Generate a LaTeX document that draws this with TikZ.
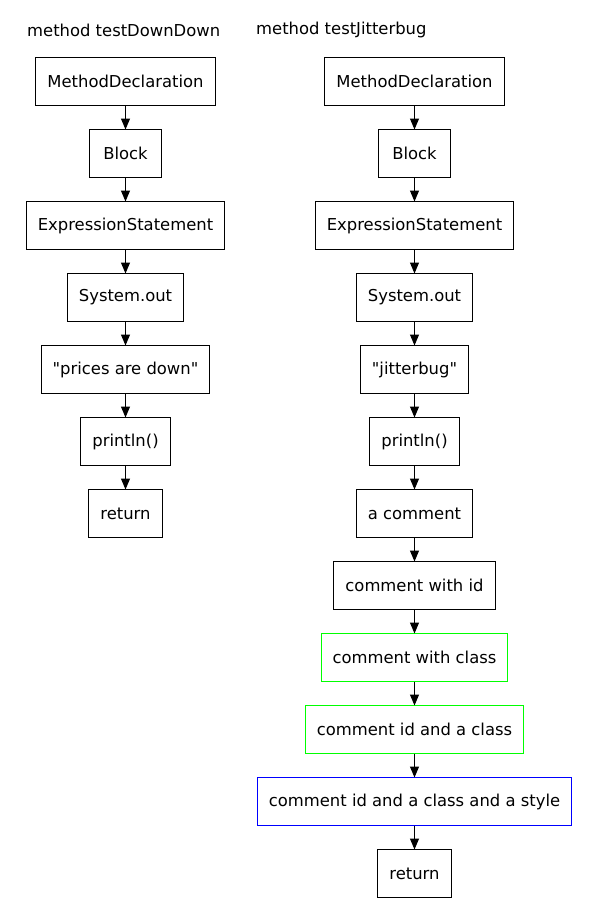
\documentclass[tikz,border=0pt]{standalone}
\usepackage{fontspec}
\setmainfont{DejaVu Sans}
\usetikzlibrary{positioning,arrows.meta}
\tikzset{box/.style={draw,rectangle,line width=1pt,outer sep=0pt,minimum width=72pt,minimum
height=48pt,inner xsep=11.5pt,text=black},title/.style={inner sep=0pt,anchor=west}}
\tikzstyle{greenbox} = [box, draw=green]
\tikzstyle{bluebox}  = [box, draw=blue]
\tikzstyle{arrow}    = [line width=1pt,-{Triangle[length=11pt,width=9pt]}]

\begin{document}
\begin{tikzpicture}[
			x=1pt,y=1pt,
			node distance=24pt,
			font=\fontsize{16.4pt}{19pt}\selectfont
		]
		\useasboundingbox (0,0) rectangle (600,-924);
		% left method
		\node[title] (titleA) at (27,-30) {method testDownDown};
		\node[box] (declA) at (125.5,-81.5) {MethodDeclaration};
		\node[box, below=of declA] (blockA) {Block};
		\node[box, below=of blockA] (exprA) {ExpressionStatement};
		\node[box, below=of exprA] (outA) {System.out};
		\node[box, below=of outA] (strA) {\textquotedbl prices are down\textquotedbl};
		\node[box, below=of strA] (printA) {println()};
		\node[box, below=of printA] (retA) {return};
		\foreach \a/\b in {declA/blockA,blockA/exprA,exprA/outA,outA/strA,strA/printA,printA/retA}
			\draw[arrow] (\a) -- (\b);
		% right method
		\node[title] (titleB) at (256,-30) {method testJitterbug};
		\node[box] (declB) at (414.5,-81.5) {MethodDeclaration};
		\node[box, below=of declB] (blockB) {Block};
		\node[box, below=of blockB] (exprB) {ExpressionStatement};
		\node[box, below=of exprB] (outB) {System.out};
		\node[box, below=of outB] (strB) {\textquotedbl jitterbug\textquotedbl};
		\node[box, below=of strB] (printB) {println()};
		\node[box, below=of printB] (comB) {a comment};
		\node[box, below=of comB] (comIdB) {comment with id};
		\node[greenbox, below=of comIdB] (comClassB) {comment with class};
		\node[greenbox, below=of comClassB] (comIdClassB) {comment id and a class};
		\node[bluebox, below=of comIdClassB] (comStyleB) {comment id and a class and a style};
		\node[box, below=of comStyleB] (retB) {return};
		\foreach \a/\b in {declB/blockB,blockB/exprB,exprB/outB,outB/strB,strB/printB,printB/comB,
				comB/comIdB,comIdB/comClassB,comClassB/comIdClassB,comIdClassB/comStyleB,comStyleB/retB}
			\draw[arrow] (\a) -- (\b);
	\end{tikzpicture}
\end{document}
